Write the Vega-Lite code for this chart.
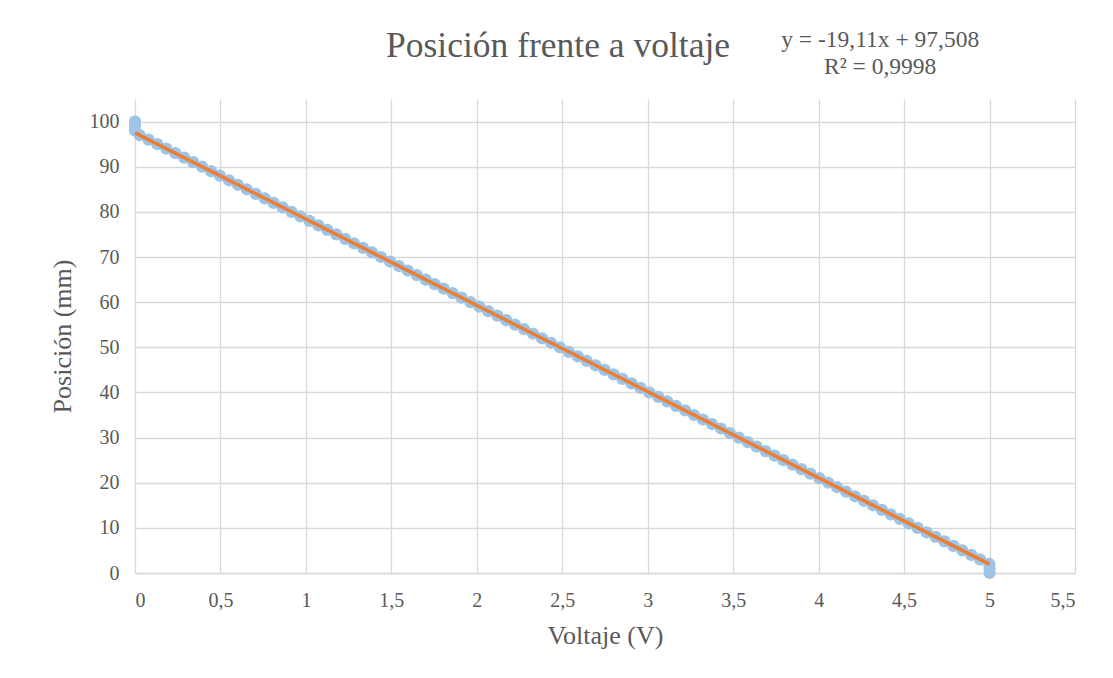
{
  "$schema": "https://vega.github.io/schema/vega-lite/v6.json",
  "autosize": {"type": "none"},
  "width": 940,
  "height": 474,
  "padding": {"left": 135, "top": 99, "right": 38, "bottom": 105},
  "background": "white",
  "config": {
    "view": {"stroke": null},
    "font": "Liberation Serif",
    "axis": {
      "labelFont": "Liberation Serif",
      "titleFont": "Liberation Serif",
      "labelColor": "#595959",
      "titleColor": "#595959",
      "labelFontSize": 20,
      "titleFontSize": 26,
      "titleFontWeight": "normal",
      "gridColor": "#D9D9D9",
      "gridWidth": 1.3,
      "ticks": false,
      "domain": false
    }
  },
  "datasets": {
    "medidas": [
      {"v": 5.0, "p": 0}, {"v": 5.0, "p": 1}, {"v": 4.998, "p": 2}, {"v": 4.945, "p": 3},
      {"v": 4.893, "p": 4}, {"v": 4.841, "p": 5}, {"v": 4.789, "p": 6}, {"v": 4.736, "p": 7},
      {"v": 4.684, "p": 8}, {"v": 4.632, "p": 9}, {"v": 4.579, "p": 10}, {"v": 4.527, "p": 11},
      {"v": 4.475, "p": 12}, {"v": 4.422, "p": 13}, {"v": 4.37, "p": 14}, {"v": 4.318, "p": 15},
      {"v": 4.265, "p": 16}, {"v": 4.213, "p": 17}, {"v": 4.161, "p": 18}, {"v": 4.108, "p": 19},
      {"v": 4.056, "p": 20}, {"v": 4.004, "p": 21}, {"v": 3.951, "p": 22}, {"v": 3.899, "p": 23},
      {"v": 3.847, "p": 24}, {"v": 3.794, "p": 25}, {"v": 3.742, "p": 26}, {"v": 3.69, "p": 27},
      {"v": 3.637, "p": 28}, {"v": 3.585, "p": 29}, {"v": 3.533, "p": 30}, {"v": 3.48, "p": 31},
      {"v": 3.428, "p": 32}, {"v": 3.376, "p": 33}, {"v": 3.323, "p": 34}, {"v": 3.271, "p": 35},
      {"v": 3.219, "p": 36}, {"v": 3.166, "p": 37}, {"v": 3.114, "p": 38}, {"v": 3.062, "p": 39},
      {"v": 3.009, "p": 40}, {"v": 2.957, "p": 41}, {"v": 2.905, "p": 42}, {"v": 2.852, "p": 43},
      {"v": 2.8, "p": 44}, {"v": 2.748, "p": 45}, {"v": 2.695, "p": 46}, {"v": 2.643, "p": 47},
      {"v": 2.591, "p": 48}, {"v": 2.538, "p": 49}, {"v": 2.486, "p": 50}, {"v": 2.434, "p": 51},
      {"v": 2.381, "p": 52}, {"v": 2.329, "p": 53}, {"v": 2.277, "p": 54}, {"v": 2.224, "p": 55},
      {"v": 2.172, "p": 56}, {"v": 2.12, "p": 57}, {"v": 2.067, "p": 58}, {"v": 2.015, "p": 59},
      {"v": 1.963, "p": 60}, {"v": 1.91, "p": 61}, {"v": 1.858, "p": 62}, {"v": 1.806, "p": 63},
      {"v": 1.753, "p": 64}, {"v": 1.701, "p": 65}, {"v": 1.649, "p": 66}, {"v": 1.596, "p": 67},
      {"v": 1.544, "p": 68}, {"v": 1.492, "p": 69}, {"v": 1.439, "p": 70}, {"v": 1.387, "p": 71},
      {"v": 1.335, "p": 72}, {"v": 1.282, "p": 73}, {"v": 1.23, "p": 74}, {"v": 1.178, "p": 75},
      {"v": 1.125, "p": 76}, {"v": 1.073, "p": 77}, {"v": 1.021, "p": 78}, {"v": 0.968, "p": 79},
      {"v": 0.916, "p": 80}, {"v": 0.864, "p": 81}, {"v": 0.811, "p": 82}, {"v": 0.759, "p": 83},
      {"v": 0.707, "p": 84}, {"v": 0.654, "p": 85}, {"v": 0.602, "p": 86}, {"v": 0.55, "p": 87},
      {"v": 0.497, "p": 88}, {"v": 0.445, "p": 89}, {"v": 0.393, "p": 90}, {"v": 0.34, "p": 91},
      {"v": 0.288, "p": 92}, {"v": 0.236, "p": 93}, {"v": 0.183, "p": 94}, {"v": 0.131, "p": 95},
      {"v": 0.079, "p": 96}, {"v": 0.027, "p": 97}, {"v": 0.0, "p": 98}, {"v": 0.0, "p": 99},
      {"v": 0.0, "p": 100}
    ],
    "tendencia": [
      {"v": 0, "p": 97.508},
      {"v": 5, "p": 1.958}
    ],
    "titulo": [
      {"v": 2.475, "p": 114.3, "texto": "Posición  frente a voltaje"}
    ],
    "ecuacion": [
      {"v": 4.36, "p": 118.1, "texto": "y = -19,11x + 97,508"},
      {"v": 4.36, "p": 112.1, "texto": "R² = 0,9998"}
    ]
  },
  "layer": [
    {
      "data": {"name": "medidas"},
      "mark": {"type": "point", "filled": true, "shape": "circle", "size": 150, "opacity": 1, "color": "#9DC3E6"},
      "encoding": {
        "x": {
          "field": "v",
          "type": "quantitative",
          "scale": {"domain": [0, 5.5], "nice": false, "zero": false},
          "axis": {
            "title": "Voltaje (V)",
            "values": [0, 0.5, 1, 1.5, 2, 2.5, 3, 3.5, 4, 4.5, 5, 5.5],
            "labelExpr": "replace(format(datum.value, '~g'), '.', ',')",
            "labelPadding": 17,
            "titlePadding": 12,
            "domain": true,
            "domainColor": "#D9D9D9",
            "domainWidth": 1.3
          }
        },
        "y": {
          "field": "p",
          "type": "quantitative",
          "scale": {"domain": [0, 105], "nice": false},
          "axis": {
            "title": "Posición (mm)",
            "values": [0, 10, 20, 30, 40, 50, 60, 70, 80, 90, 100],
            "labelPadding": 16,
            "titlePadding": 14
          }
        }
      }
    },
    {
      "data": {"name": "tendencia"},
      "mark": {"type": "line", "color": "#ED7D31", "strokeWidth": 3.5},
      "encoding": {
        "x": {"field": "v", "type": "quantitative"},
        "y": {"field": "p", "type": "quantitative"}
      }
    },
    {
      "data": {"name": "titulo"},
      "mark": {"type": "text", "clip": false, "align": "center", "baseline": "alphabetic", "font": "Liberation Serif", "fontSize": 35.5, "color": "#595959"},
      "encoding": {
        "x": {"field": "v", "type": "quantitative"},
        "y": {"field": "p", "type": "quantitative"},
        "text": {"field": "texto"}
      }
    },
    {
      "data": {"name": "ecuacion"},
      "mark": {"type": "text", "clip": false, "align": "center", "baseline": "middle", "font": "Liberation Serif", "fontSize": 23.5, "color": "#595959"},
      "encoding": {
        "x": {"field": "v", "type": "quantitative"},
        "y": {"field": "p", "type": "quantitative"},
        "text": {"field": "texto"}
      }
    }
  ]
}
